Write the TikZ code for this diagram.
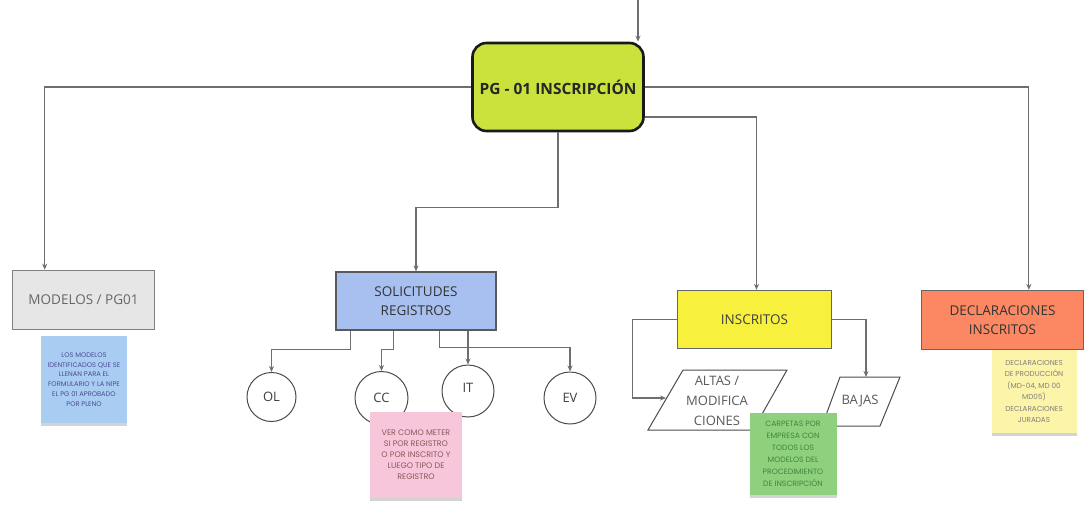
\documentclass[tikz,border=0pt]{standalone}
\usepackage{fontspec}
\setmainfont{Open Sans}
\newfontfamily\notefont{Poppins}
\usetikzlibrary{arrows.meta,shadows,calc}
\definecolor{lime}{HTML}{CBE23C}
\definecolor{modfill}{HTML}{E6E6E6}
\definecolor{solfill}{HTML}{A8C0EF}
\definecolor{insfill}{HTML}{F7F03C}
\definecolor{decfill}{HTML}{FB8862}
\definecolor{linec}{HTML}{6E6E6E}
\definecolor{bluenote}{HTML}{A9CDF2}
\definecolor{pinknote}{HTML}{F8C6DA}
\definecolor{greennote}{HTML}{8ED07B}
\definecolor{yellownote}{HTML}{FCF4A8}
\tikzset{
  arr/.style={draw=linec,line width=1.2pt,-{Stealth[length=6pt,width=5pt]}},
  boxnode/.style={draw=black!65,line width=1.3pt,align=center,font=\fontsize{13.5}{19}\selectfont,inner sep=0pt},
  circnode/.style={circle,draw=black!70,line width=1pt,fill=white,font=\fontsize{13}{15}\selectfont,text=black!75,inner sep=0pt},
  paranode/.style={align=center,font=\fontsize{13}{20}\selectfont,text=black!65,inner sep=0pt},
  paraline/.style={draw=black!70,line width=1pt,fill=white},
  note/.style={align=center,inner sep=0pt,
    drop shadow={opacity=0.35,shadow xshift=0pt,shadow yshift=-3pt}},
}
\begin{document}
\begin{tikzpicture}[x=1pt,y=-1pt]
\useasboundingbox (0,0) rectangle (1085,504);
% main
\node[draw=black!90,line width=2.6pt,rounded corners=14pt,fill=lime,minimum width=171pt,minimum height=88pt,
  font=\bfseries\fontsize{15.5}{18}\selectfont,text=black!85,inner sep=0pt] (main) at (558,87) {PG - 01 INSCRIPCIÓN};
% level 2
\node[boxnode,fill=modfill,draw=black!50,line width=1.6pt,minimum width=142pt,minimum height=59pt,text=black!60] (modelos) at (83.5,300) {MODELOS / PG01};
\node[boxnode,fill=solfill,draw=black!65,minimum width=160pt,minimum height=58pt,text=black!80] (solic) at (416,301) {SOLICITUDES\\REGISTROS};
\node[boxnode,fill=insfill,draw=black!60,minimum width=154pt,minimum height=58pt,text=black!75] (insc) at (754.5,319.5) {INSCRITOS};
\node[boxnode,fill=decfill,draw=black!60,minimum width=162pt,minimum height=59pt,text=black!80] (decl) at (1002.5,320) {DECLARACIONES\\INSCRITOS};
% circles
\node[circnode,minimum size=49pt] (ol) at (271.5,397) {OL};
\node[circnode,minimum size=53pt] (cc) at (381.5,398) {CC};
\node[circnode,minimum size=52pt] (it) at (468,391) {\raisebox{6pt}{IT}};
\node[circnode,minimum size=52pt] (ev) at (570,398) {EV};
% parallelograms
\draw[paraline] (683,370) -- (787,370) -- (753,430) -- (648,430) -- cycle;
\node[paranode] (altas) at (717,401) {ALTAS /\\MODIFICA\\CIONES};
\coordinate (altasL) at (666,398);
\draw[paraline] (840,377) -- (900,377) -- (880,426) -- (822,426) -- cycle;
\node[paranode] (bajas) at (860,401) {BAJAS};
\coordinate (bajasT) at (866,377);
% connectors
\coordinate (topin) at (638,0);
\draw[arr] (topin) -- (topin |- main.north);
\draw[arr] (main.west) -| ([xshift=33pt]modelos.north west);
\draw[arr] (main.east) -| ([xshift=108pt]decl.north west);
\draw[arr] (main.south) -- ++(0,75) -| (solic.north);
\draw[arr] ([yshift=-30pt]main.east) -| ([xshift=2pt]insc.north);
\draw[arr] ([xshift=15pt]solic.south west) -- ++(0,19) -| (ol.north);
\draw[arr] ([xshift=58pt]solic.south west) -- ++(0,19) -| (cc.north);
\draw[arr] ([xshift=104pt]solic.south west) -- ++(0,17) -| (ev.north);
\draw[arr] (it.north |- solic.south) -- (it.north);
\draw[arr] (insc.west) -- ++(-44,0) |- (altasL);
\draw[arr] (insc.east) -| (bajasT);
% sticky notes
\node[note,fill=bluenote,minimum width=86pt,minimum height=87pt,text=black!30!blue!40!gray,
  font=\notefont\fontsize{6.7}{9.8}\selectfont] (nblue) at (84,379.5)
  {LOS MODELOS\\IDENTIFICADOS QUE SE\\LLENAN PARA EL\\FORMULARIO Y LA NIPE\\EL PG 01 APROBADO\\POR PLENO};
\node[note,fill=pinknote,minimum width=92pt,minimum height=86pt,text=black!40!red!30!gray,
  font=\notefont\fontsize{8}{11}\selectfont] (npink) at (416,455)
  {VER COMO METER\\SI POR REGISTRO\\O POR INSCRITO Y\\LUEGO TIPO DE\\REGISTRO};
\node[note,fill=greennote,minimum width=87pt,minimum height=82pt,text=black!45!green!50!gray,
  font=\notefont\fontsize{7.7}{12}\selectfont] (ngreen) at (793,454)
  {CARPETAS POR\\EMPRESA CON\\TODOS LOS\\MODELOS DEL\\PROCEDIMIENTO\\DE INSCRIPCIÓN};
\node[note,fill=yellownote,minimum width=85pt,minimum height=83pt,text=black!50,
  font=\notefont\fontsize{7.2}{11.5}\selectfont] (nyellow) at (1034,391.5)
  {DECLARACIONES\\DE PRODUCCIÓN\\(MD-04, MD 00\\MD05)\\DECLARACIONES\\JURADAS};
\end{tikzpicture}
\end{document}
